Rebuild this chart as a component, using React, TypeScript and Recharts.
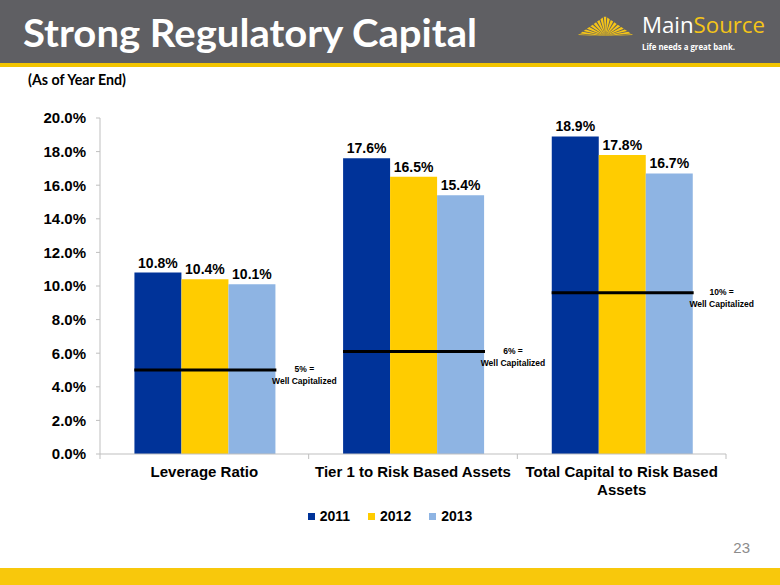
import React from "react";
import {
    BarChart,
    Bar,
    XAxis,
    YAxis,
    Legend,
    LabelList,
    ReferenceLine,
    Text
} from "recharts";

const categories = [
    "Leverage Ratio",
    "Tier 1 to Risk Based Assets",
    "Total Capital to Risk Based Assets",
];
const years = ["2011", "2012", "2013"];
const values2011 = [10.8, 17.6, 18.9];
const values2012 = [10.4, 16.5, 17.8];
const values2013 = [10.1, 15.4, 16.7];
const wellCapLevels = [5, 6.1, 9.6];
const wellCapLabels = ["5% =", "6% =", "10% ="];
const yTicks = [0, 2, 4, 6, 8, 10, 12, 14, 16, 18, 20];
const seriesColors = ["#003399", "#FFCC00", "#8EB4E3"];

const data = categories.map((name, i) => ({
    name,
    "2011": values2011[i],
    "2012": values2012[i],
    "2013": values2013[i],
}));

const ARIAL = "'Liberation Sans', Arial, sans-serif";
const pct = (v: number) => `${Number(v).toFixed(1)}%`;

const CategoryTick = (props: any) => {
    const { x, y, payload, index, visibleTicksCount } = props;
    const half = payload.offset || 104;
    const style = { fontSize: 15, fontWeight: 700, fontFamily: ARIAL };
    return (
        <g>
            <line x1={x - half} x2={x - half} y1={y - 12} y2={y - 7} stroke="#bfbfbf" />
            {index === visibleTicksCount - 1 && (
                <line x1={x + half} x2={x + half} y1={y - 12} y2={y - 7} stroke="#bfbfbf" />
            )}
            <Text
                x={x}
                y={y}
                width={235}
                textAnchor="middle"
                verticalAnchor="start"
                lineHeight="1.2em"
                style={style}
                fill="#000"
            >
                {payload.value}
            </Text>
        </g>
    );
};

const threshold = (label: string) => (props: any) => {
    const { x1, y1 } = props;
    return (
        <g>
            <line x1={x1 - 70} x2={x1 + 72} y1={y1} y2={y1} stroke="#000" strokeWidth={3} />
            <text
                x={x1 + 100}
                y={y1 + 2}
                textAnchor="middle"
                fontSize={8.5}
                fontWeight={700}
                fontFamily={ARIAL}
                fill="#000"
            >
                {label}
            </text>
            <text
                x={x1 + 100}
                y={y1 + 14}
                textAnchor="middle"
                fontSize={8.5}
                fontWeight={700}
                fontFamily={ARIAL}
                fill="#000"
            >
                Well Capitalized
            </text>
        </g>
    );
};

const LegendContent = (props: any) => {
    const items = props.payload || [];
    return (
        <div
            style={{
                display: "flex",
                justifyContent: "center",
                alignItems: "center",
                height: 20,
                fontFamily: ARIAL,
                fontWeight: 700,
                fontSize: 14,
            }}
        >
            {items.map((it: any, i: number) => (
                <div key={i} style={{ display: "flex", alignItems: "center", marginLeft: i ? 18 : 0 }}>
                    <span style={{ width: 7, height: 7, background: it.color, marginRight: 5 }} />
                    <span style={{ color: "#000" }}>{it.value}</span>
                </div>
            ))}
        </div>
    );
};

// sunburst rays for the logo, spread along a triangle outline
const rayOutline = [
    [578, 35],
    [605, 16],
    [633, 35],
];
function pointOn(t: number) {
    const [a, b, c] = rayOutline;
    if (t < 0.5) {
        const k = t / 0.5;
        return [a[0] + (b[0] - a[0]) * k, a[1] + (b[1] - a[1]) * k];
    }
    const k = (t - 0.5) / 0.5;
    return [b[0] + (c[0] - b[0]) * k, b[1] + (c[1] - b[1]) * k];
}
const rays = Array.from({ length: 17 }, (_, i) => {
    const t = i / 16;
    const p1 = pointOn(Math.max(0, t - 0.022));
    const p2 = pointOn(Math.min(1, t + 0.022));
    return `605.5,36 ${p1[0]},${p1[1]} ${p2[0]},${p2[1]}`;
});

export default function RegulatoryCapitalChart() {
    return (
        <div
            style={{
                position: "absolute",
                left: 0,
                top: 0,
                width: 780,
                height: 585,
                background: "#fff",
                overflow: "hidden",
            }}
        >
            <svg width={780} height={585} style={{ position: "absolute", left: 0, top: 0 }}>
                <rect x={0} y={0} width={780} height={63} fill="#5f5f63" />
                <rect x={0} y={63} width={780} height={4} fill="#f2c400" />
                <text
                    x={23}
                    y={47}
                    fontFamily="Lato, 'Open Sans', sans-serif"
                    fontWeight={700}
                    fontSize={39}
                    fill="#fff"
                    textLength={454}
                    lengthAdjust="spacingAndGlyphs"
                >
                    Strong Regulatory Capital
                </text>
                <text
                    x={28}
                    y={85}
                    fontFamily="Lato, 'Open Sans', sans-serif"
                    fontWeight={700}
                    fontSize={15}
                    fill="#000"
                    textLength={98}
                    lengthAdjust="spacingAndGlyphs"
                >
                    (As of Year End)
                </text>
                {rays.map((pts, i) => (
                    <polygon key={i} points={pts} fill="#f5c518" />
                ))}
                <text
                    x={642}
                    y={33}
                    fontFamily="'Open Sans', sans-serif"
                    fontSize={22}
                    textLength={123}
                    lengthAdjust="spacingAndGlyphs"
                >
                    <tspan fill="#fff">Main</tspan>
                    <tspan fill="#f5c518">Source</tspan>
                </text>
                <text
                    x={642}
                    y={50}
                    fontFamily="'Open Sans', sans-serif"
                    fontWeight={700}
                    fontSize={8.5}
                    fill="#fff"
                    textLength={93}
                    lengthAdjust="spacingAndGlyphs"
                >
                    Life needs a great bank.
                </text>
                <text x={750} y={553} textAnchor="end" fontFamily={ARIAL} fontSize={15} fill="#8c8c8c">
                    23
                </text>
                <rect x={0} y={568} width={780} height={17} fill="#f8c80c" />
            </svg>
            <div style={{ position: "absolute", left: 0, top: 0 }}>
                <BarChart
                    width={780}
                    height={585}
                    data={data}
                    margin={{ top: 118, right: 54, bottom: 59, left: 20 }}
                    barCategoryGap="16.5%"
                    barGap={0}
                >
                    <XAxis
                        dataKey="name"
                        height={52}
                        interval={0}
                        tickLine={false}
                        tickSize={5}
                        tickMargin={7}
                        axisLine={{ stroke: "#bfbfbf" }}
                        tick={<CategoryTick />}
                    />
                    <YAxis
                        width={80}
                        domain={[0, 20]}
                        ticks={yTicks}
                        tickFormatter={pct}
                        tickSize={4}
                        tickMargin={10}
                        axisLine={{ stroke: "#bfbfbf" }}
                        tickLine={{ stroke: "#bfbfbf" }}
                        tick={{ fontSize: 15, fontWeight: 700, fontFamily: ARIAL, fill: "#000" }}
                    />
                    <Legend verticalAlign="bottom" wrapperStyle={{ left: 0, width: 780 }} content={<LegendContent />} />
                    {years.map((yr, i) => (
                        <Bar key={yr} dataKey={yr} fill={seriesColors[i]} isAnimationActive={false}>
                            <LabelList
                                dataKey={yr}
                                position="top"
                                offset={5}
                                formatter={pct}
                                style={{ fontSize: 14, fontWeight: 700, fontFamily: ARIAL, fill: "#000" }}
                            />
                        </Bar>
                    ))}
                    {categories.map((c, i) => (
                        <ReferenceLine
                            key={c}
                            segment={[
                                { x: c, y: wellCapLevels[i] },
                                { x: c, y: wellCapLevels[i] },
                            ]}
                            shape={threshold(wellCapLabels[i])}
                        />
                    ))}
                </BarChart>
            </div>
        </div>
    );
}
